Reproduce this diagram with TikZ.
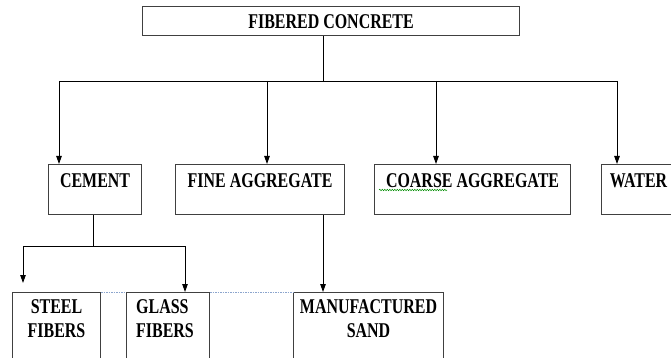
\documentclass[tikz,border=0pt]{standalone}
\usepackage{fontspec}
\newfontfamily\fiberfont[FakeStretch=0.76]{Liberation Serif}
\newcommand{\boxlabelfont}{\fiberfont\bfseries\fontsize{21}{24.5}\selectfont}
\usetikzlibrary{arrows.meta,decorations.pathmorphing}
\tikzset{
	box/.style={draw=black!75, line width=1.1pt, anchor=north west, inner sep=0pt},
	boxtext/.style={anchor=north, inner sep=0pt, align=center, font=\boxlabelfont, yshift=-#1},
	boxtext/.default=9pt,
	blueline/.style={draw={rgb,255:red,140;green,165;blue,205}, line width=0.8pt, dash pattern=on 1.5pt off 1pt}
}
\begin{document}
\begin{tikzpicture}[x=1pt,y=-1pt,line width=0.9pt,>={Triangle[length=8pt,width=5.5pt]}]
	\useasboundingbox (0,0) rectangle (671,358);
	\node[box, minimum width=377pt, minimum height=29pt, label={[boxtext=8pt]north:FIBERED CONCRETE}] (fibered) at (142,6) {};
	\node[box, minimum width=93pt, minimum height=50pt, label={[boxtext]north:CEMENT}] (cement) at (48,164) {};
	\node[box, minimum width=169pt, minimum height=50pt, label={[boxtext]north:FINE AGGREGATE}] (fine) at (175,164) {};
	\node[box, minimum width=196pt, minimum height=50pt, label={[boxtext]north:COARSE AGGREGATE}] (coarse) at (374,164) {};
	\node[box, minimum width=74pt, minimum height=50pt, label={[boxtext]north:WATER}] (water) at (601,164) {};
	\node[box, minimum width=88pt, minimum height=80pt, label={[boxtext=7pt]north:STEEL\\FIBERS}] (steel) at (12,292) {};
	\node[box, minimum width=83pt, minimum height=80pt, label={[boxtext=7pt, align=left, xshift=-3pt]north:GLASS\\FIBERS}] (glass) at (126,292) {};
	\node[box, minimum width=150pt, minimum height=80pt, label={[boxtext=7pt]north:MANUFACTURED\\SAND}] (sand) at (293,292) {};
	
	\coordinate (hub) at (323,81);
	\coordinate (b1) at (59,81);
	\coordinate (b2) at (267,81);
	\coordinate (b3) at (436,81);
	\coordinate (b4) at (617,81);
	\coordinate (c0) at (93,246);
	\coordinate (c1) at (23,246);
	\coordinate (c2) at (185,246);
	\coordinate (c1end) at (23,283);
	\coordinate (sandin) at (323,292);
	
	\draw  (fibered.south -| hub) -- (hub);
	\draw  (b1) -- (b4);
	\draw[->] (b1) -- (b1 |- cement.north);
	\draw[->] (b2) -- (b2 |- fine.north);
	\draw[->] (b3) -- (b3 |- coarse.north);
	\draw[->] (b4) -- (b4 |- water.north);
	\draw  (cement.south -| c0) -- (c0);
	\draw  (c1) -- (c2);
	\draw[->] (c1) -- (c1end);
	\draw[->] (c2) -- (c2 |- glass.north);
	\draw[->] (fine.south -| sandin) -- (sandin);
	
	\draw[blueline] (steel.north east) -- (glass.north west);
	\draw[blueline] (glass.north east) -- (sand.north west);
	\draw[green!55!black, line width=0.5pt, decorate, decoration={snake, amplitude=0.7pt, segment length=2.5pt}] (379,190) -- (447,190);
\end{tikzpicture}
\end{document}
